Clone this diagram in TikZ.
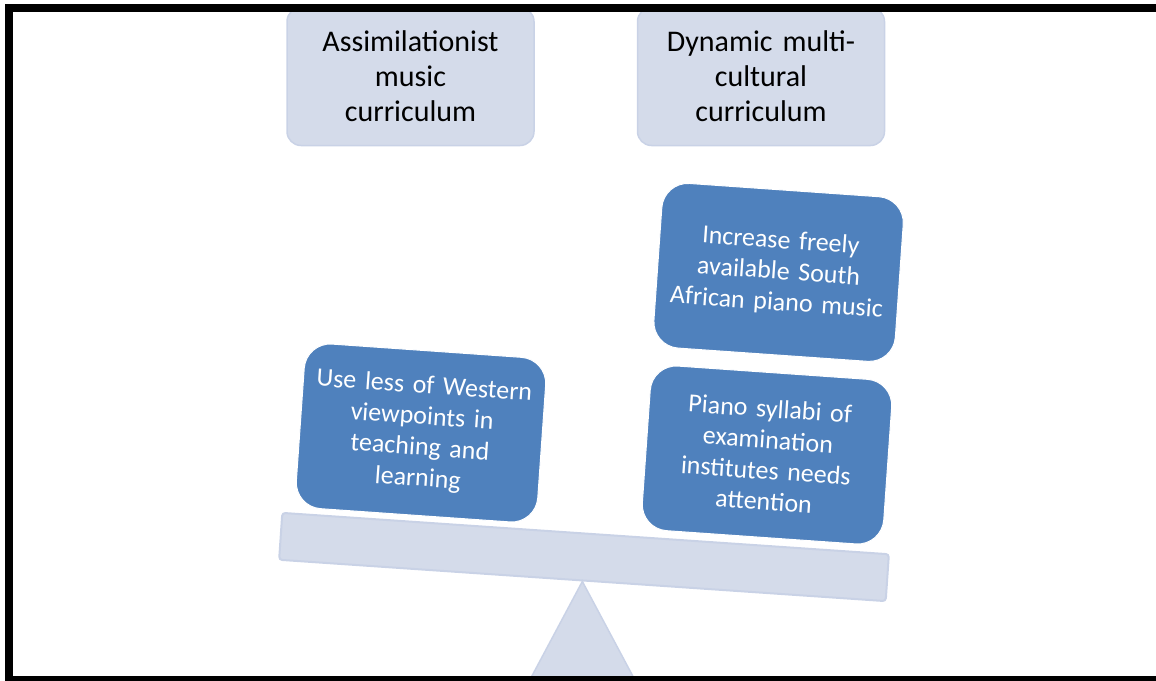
\documentclass[tikz,border=0pt]{standalone}
\usepackage{fontspec}
\setmainfont{Carlito}
\usetikzlibrary{positioning}

\definecolor{paleG}{HTML}{D4DBEA}
\definecolor{paleEdgeG}{HTML}{C9D2E6}
\definecolor{blueG}{HTML}{4F81BD}

\tikzset{
  sideG/.style={draw=paleEdgeG, line width=1.5pt, fill=paleG, rounded corners=14pt,
    minimum width=247pt, minimum height=138pt, text width=230pt, align=center,
    font=\fontsize{30}{35}\selectfont},
  weightG/.style={draw=white, line width=1pt, fill=blueG, text=white, rounded corners=26pt,
    minimum width=242pt, minimum height=165pt, text width=224pt, align=center,
    rotate=-4, font=\fontsize{26}{31}\selectfont},
  beamG/.style={draw=paleEdgeG, line width=2pt, fill=paleG, rounded corners=3pt,
    minimum width=608pt, minimum height=47pt, inner sep=0pt, rotate=-3.9},
}

\begin{document}
\begin{tikzpicture}[x=1pt, y=-1pt]
    \useasboundingbox (0,0) rectangle (1156,680);
    \clip (0,0) rectangle (1156,680);
    % the two sides
    \node[sideG] (assim) at (410.5,76.5) {Assimilationist\\ music\\ curriculum};
    \node[sideG, right = 102pt of assim] (dyn) {Dynamic multi-\\ cultural\\ curriculum};
    % beam and fulcrum
    \node[beamG] (beam) at (584,557) {};
    \fill[paleG, draw=paleEdgeG, line width=1.5pt] (beam.south) -- ++(-64,120) -- ++(128,0) -- cycle;
    % weights on the left
    \node[weightG] (west) at (421,433) {Use less of Western\\ viewpoints in\\ teaching and\\ learning};
    % weights on the right
    \node[weightG] (syll) at (767,455) {Piano syllabi of\\ examination\\ institutes needs\\ attention};
    \node[weightG, above = 17pt of syll] (sam) {Increase freely\\ available South\\ African piano music};
    % frame
    \draw[line width=8pt] (9,8) rectangle (1170,680);
\end{tikzpicture}
\end{document}
